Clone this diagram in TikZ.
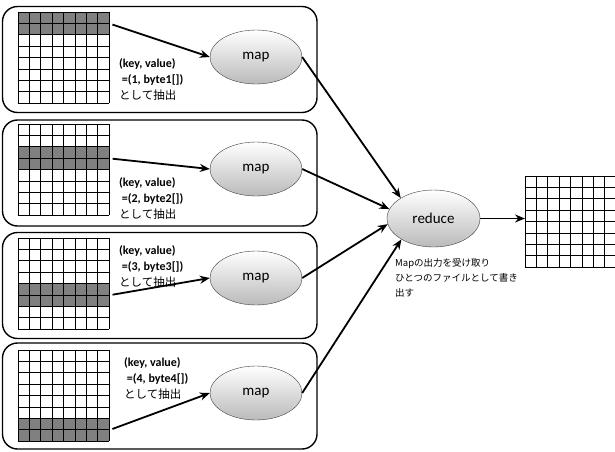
\documentclass[tikz,border=0pt]{standalone}
\usepackage{fontspec}
\setmainfont{Carlito}
\newfontfamily\jp{Noto Sans CJK JP}
\usetikzlibrary{arrows.meta,shapes.geometric}

\tikzset{
  panel/.style={draw, line width=1.4pt, rounded corners=15pt, minimum width=314.5pt, minimum height=106pt, inner sep=0pt},
  gridbox/.style={minimum width=91.2pt, minimum height=91.2pt, inner sep=0pt, anchor=north west},
  band/.style={fill=gray, minimum width=91.2pt, minimum height=22.8pt, inner sep=0pt, anchor=north west},
  cell/.style={line width=0.9pt},
  proc/.style={ellipse, draw=black!75, top color=white, bottom color=black!27, minimum width=92pt, minimum height=54pt, inner sep=0pt, font=\fontsize{15}{18}\selectfont},
  kv/.style={align=left, anchor=north west, inner sep=0pt, font=\fontsize{12}{16.5}\selectfont\bfseries},
  note/.style={align=left, anchor=north west, inner sep=0pt, font=\jp\fontsize{9.5}{15}\selectfont},
  flow/.style={-{Stealth[length=10pt,width=8pt]}, line width=1.8pt},
}
\newcommand{\jpline}[1]{{\jp\mdseries\fontsize{11.5}{14}\selectfont #1}}

\begin{document}
\begin{tikzpicture}[x=1pt, y=-1pt]
  \useasboundingbox (0,0) rectangle (615,451);
  % one panel per split of the input
  \node[panel] (p1) at (159.75,59.5) {};
  \node[panel] (p2) at (159.75,173) {};
  \node[panel] (p3) at (159.75,285.5) {};
  \node[panel] (p4) at (159.75,396) {};

  % input grids, the gray rows are the part that gets extracted
  \foreach \i/\y/\r in {1/12/0, 2/124/2, 3/238/4, 4/350/6} {
    \node[gridbox] (g\i) at (18,\y) {};
    \node[band] (band\i) at (18,\y+\r*11.4) {};
    \foreach \k in {0,...,8} {
      \draw[cell] (18+\k*11.4,\y) -- ++(0,91.2);
      \draw[cell] (18,\y+\k*11.4) -- ++(91.2,0);
    }
  }

  \node[proc] (m1) at (256,57) {map};
  \node[proc] (m2) at (256,169) {map};
  \node[proc] (m3) at (256,278) {map};
  \node[proc] (m4) at (256,393) {map};

  \node[kv] (kv1) at (119,58) {(key, value)\\ \ =(1, byte1[])\\[-1pt] \jpline{として抽出}};
  \node[kv] (kv2) at (119,177) {(key, value)\\ \ =(2, byte2[])\\[-1pt] \jpline{として抽出}};
  \node[kv] (kv3) at (119,245) {(key, value)\\ \ =(3, byte3[])\\[-1pt] \jpline{として抽出}};
  \node[kv] (kv4) at (124,357) {(key, value)\\ \ =(4, byte4[])\\[-1pt] \jpline{として抽出}};

  \node[proc, minimum width=93pt, minimum height=57pt] (r) at (433.5,218.5) {reduce};
  \node[note] (rnote) at (395,258) {Mapの出力を受け取り\\ひとつのファイルとして書き\\出す};

  % merged output
  \node[gridbox] (og) at (525,176) {};
  \foreach \k in {0,...,8} {
    \draw[cell] (525+\k*11.4,176) -- ++(0,91.2);
    \draw[cell] (525,176+\k*11.4) -- ++(91.2,0);
  }

  \foreach \i in {1,...,4}
    \draw[flow, shorten <=3pt] (band\i.east) -- (m\i.west);
  \draw[flow] (m1.east) -- (r.148);
  \draw[flow] (m2.east) -- (r.168);
  \draw[flow] (m3.east) -- (r.187);
  \draw[flow] (m4.east) -- (r.213);
  \draw[flow] (r.east) -- (r.east -| og.west);
\end{tikzpicture}
\end{document}
